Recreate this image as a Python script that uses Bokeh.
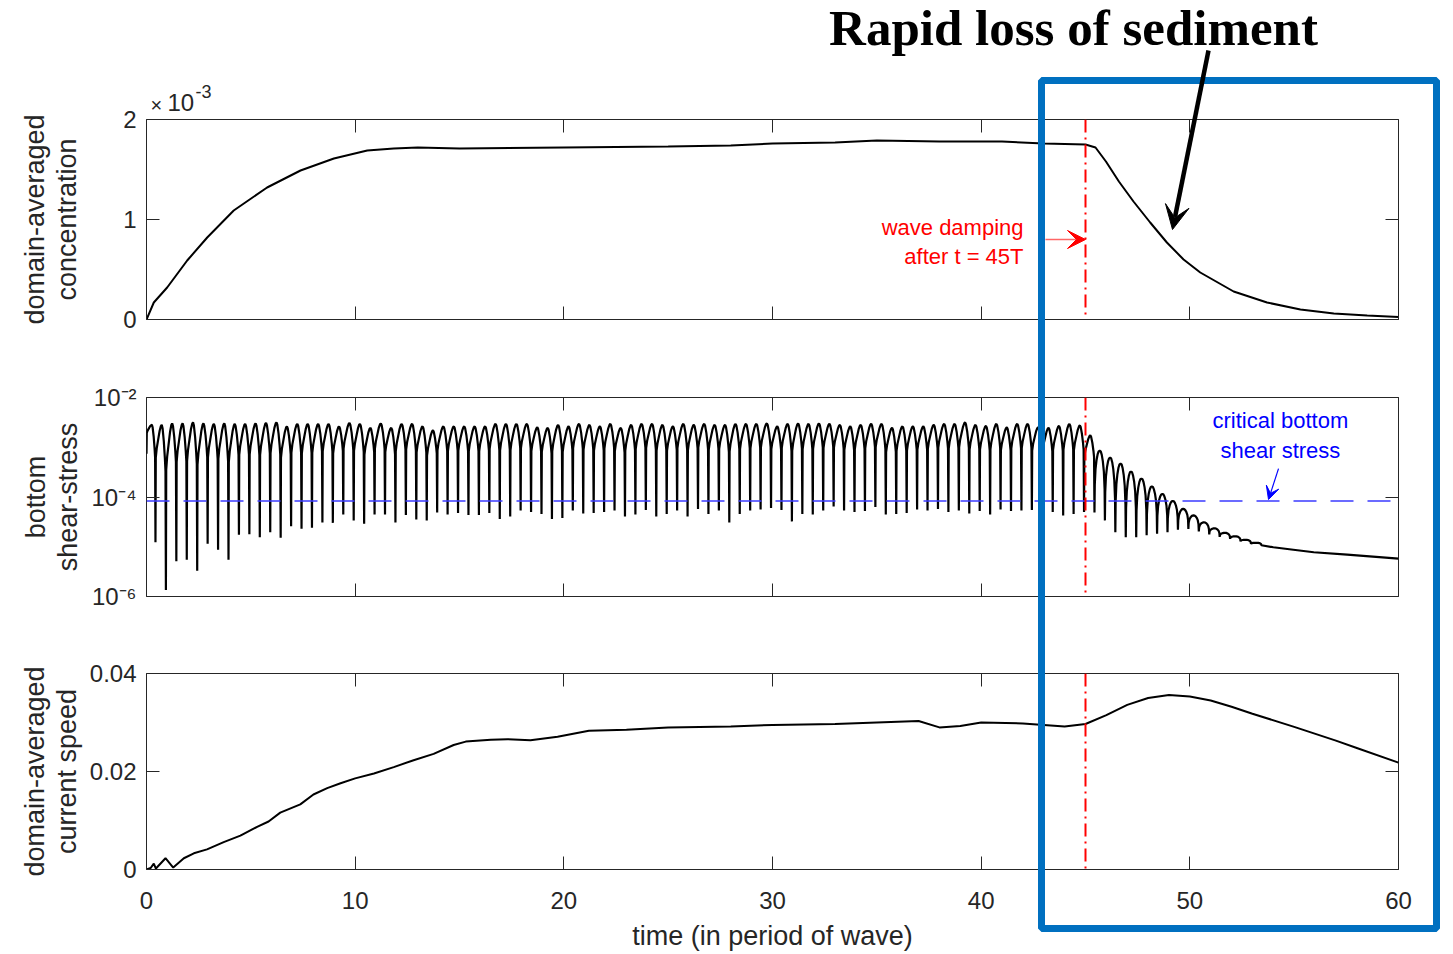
import numpy as np
from bokeh.plotting import figure
from bokeh.models import (Range1d, LinearAxis, LogAxis, FixedTicker, Span, Arrow,
                          VeeHead, CustomJSTickFormatter)
from bokeh.layouts import column
from bokeh.embed import file_html
from bokeh.resources import INLINE
from bokeh.core.properties import value

FONT = "Liberation Sans"
AXC = "#262626"

# ---------------- data ----------------
x_ticks = [0, 10, 20, 30, 40, 50, 60]
conc_ticks = [0, 1, 2]
tau_ticks = [1e-6, 1e-4, 1e-2]
speed_ticks = [0, 0.02, 0.04]

# panel 1: domain-averaged concentration (x 1e-3)
conc_t = [0, 0.35, 0.99, 1.95, 2.91, 4.18, 5.78, 7.38, 8.98, 10.58, 11.85, 13,
          15, 20, 25, 28, 30, 33, 35, 38, 41, 43, 45, 45.48, 45.98, 46.6, 47.3,
          48.1, 48.9, 49.7, 50.5, 52.1, 53.7, 55.3, 56.9, 58.5, 60]
conc_v = [0, 0.17, 0.32, 0.59, 0.82, 1.09, 1.32, 1.49, 1.61, 1.69, 1.71, 1.72,
          1.71, 1.72, 1.73, 1.74, 1.76, 1.77, 1.79, 1.78, 1.78, 1.76, 1.75, 1.72,
          1.58, 1.38, 1.18, 0.97, 0.77, 0.60, 0.47, 0.28, 0.17, 0.10, 0.06, 0.04, 0.025]

# panel 2: bottom shear stress, log10 values of every half-wave trough and peak
tau_start_t = 0.0
tau_start_log = -3.13
spike_t0 = 0.43
half_period = 0.5
tau_trough_log = [
    -4.91, -5.87, -5.29, -5.26, -5.48, -4.94, -5.06, -5.26, -4.76, -4.75,
    -4.81, -4.71, -4.82, -4.59, -4.64, -4.62, -4.51, -4.52, -4.35, -4.47,
    -4.54, -4.35, -4.35, -4.51, -4.36, -4.45, -4.47, -4.31, -4.35, -4.32,
    -4.36, -4.36, -4.32, -4.44, -4.39, -4.27, -4.30, -4.34, -4.44, -4.42,
    -4.27, -4.33, -4.32, -4.30, -4.27, -4.39, -4.35, -4.26, -4.39, -4.34,
    -4.27, -4.39, -4.24, -4.34, -4.27, -4.51, -4.34, -4.27, -4.25, -4.22,
    -4.26, -4.49, -4.34, -4.35, -4.27, -4.19, -4.27, -4.30, -4.28, -4.20,
    -4.35, -4.34, -4.32, -4.25, -4.27, -4.24, -4.30, -4.27, -4.33, -4.28,
    -4.35, -4.25, -4.28, -4.27, -4.26, -4.27, -4.30, -4.37, -4.34, -4.30,
    -4.31, -4.47, -4.71, -4.81, -4.81, -4.77, -4.74, -4.71, -4.66, -4.64,
    -4.69, -4.75, -4.80, -4.84, -4.89, -4.94, -4.97]
tau_peak_log = [
    -2.55, -2.55, -2.52, -2.52, -2.50, -2.52, -2.53, -2.52, -2.53, -2.53,
    -2.52, -2.51, -2.50, -2.58, -2.53, -2.53, -2.53, -2.53, -2.58, -2.51,
    -2.53, -2.61, -2.52, -2.61, -2.53, -2.53, -2.58, -2.66, -2.58, -2.58,
    -2.58, -2.58, -2.58, -2.53, -2.53, -2.53, -2.53, -2.60, -2.61, -2.55,
    -2.58, -2.53, -2.55, -2.58, -2.53, -2.61, -2.55, -2.53, -2.53, -2.55,
    -2.58, -2.53, -2.55, -2.53, -2.55, -2.55, -2.53, -2.53, -2.53, -2.52,
    -2.58, -2.53, -2.52, -2.53, -2.52, -2.53, -2.55, -2.58, -2.55, -2.53,
    -2.53, -2.61, -2.58, -2.58, -2.58, -2.55, -2.53, -2.53, -2.50, -2.55,
    -2.57, -2.53, -2.60, -2.53, -2.53, -2.60, -2.61, -2.57, -2.53, -2.56,
    -2.76, -3.07, -3.21, -3.33, -3.49, -3.63, -3.79, -3.94, -4.08, -4.24,
    -4.37, -4.51, -4.63, -4.72, -4.79, -4.86, -4.92]
tau_tail_t = [54.0, 54.96, 55.94, 57.54, 60.0]
tau_tail_log = [-5.01, -5.06, -5.11, -5.16, -5.24]
# shape of one half-wave (fraction of the half-wave, fraction of trough->peak rise)
wave_prof_f = [0, 0.03, 0.12, 0.25, 0.40, 0.52, 0.60, 0.68, 0.80, 0.90, 0.96, 1]
wave_prof_s = [0, 0.72, 0.80, 0.87, 0.95, 0.99, 1.0, 0.98, 0.90, 0.80, 0.72, 0]
arch_prof_f = [0, 0.03, 0.10, 0.20, 0.30, 0.40, 0.50, 0.60, 0.70, 0.80, 0.90, 0.97, 1]
arch_prof_s = [0, 0.45, 0.70, 0.85, 0.94, 0.99, 1.0, 0.99, 0.94, 0.85, 0.70, 0.45, 0]
first_damped_half_wave = 91
critical_log = -4.08

# panel 3: domain-averaged current speed
speed_t = [0, 0.2, 0.35, 0.45, 0.91, 1.28, 1.79, 2.27, 2.9, 3.7, 4.5, 5.3, 5.85,
           6.41, 7.37, 8.0, 8.66, 9.3, 10.0, 10.9, 11.85, 12.8, 13.76, 14.72, 15.3,
           16.5, 17.3, 18.4, 19.7, 21.2, 23, 25, 28, 30, 33, 35, 37, 38, 39, 40,
           42, 44, 45, 46, 47, 48, 49, 50, 51, 52, 53, 55, 57, 58, 60]
speed_v = [0.0, 0.0003, 0.0012, 0.0002, 0.0023, 0.0004, 0.0023, 0.0033, 0.0041,
           0.0056, 0.0069, 0.0087, 0.0098, 0.0116, 0.0133, 0.0153, 0.0166, 0.0176,
           0.0186, 0.0196, 0.0209, 0.0223, 0.0236, 0.0254, 0.0261, 0.0265, 0.0266,
           0.0264, 0.0271, 0.0283, 0.0285, 0.0290, 0.0292, 0.0295, 0.0297, 0.0300,
           0.0303, 0.0290, 0.0293, 0.0300, 0.0298, 0.0292, 0.0297, 0.0315, 0.0336,
           0.0350, 0.0356, 0.0353, 0.0345, 0.0332, 0.0318, 0.0291, 0.0263, 0.0248,
           0.0218]

damping_t = 45

# ---------------- build the shear-stress trace from the read extremes ----------------
tau_x = [tau_start_t]
tau_l = [tau_start_log]
left_t, left_v = tau_start_t, tau_start_log
for k, (tr, pk) in enumerate(zip(tau_trough_log, tau_peak_log)):
    right_t = spike_t0 + half_period * k
    if k < first_damped_half_wave:
        pf, ps = wave_prof_f, wave_prof_s
    else:
        pf, ps = arch_prof_f, arch_prof_s
    f_peak = pf[ps.index(1.0)]
    for f, s in zip(pf[1:], ps[1:]):
        base = left_v if f <= f_peak else tr
        tau_x.append(left_t + f * (right_t - left_t))
        tau_l.append(base + (pk - base) * s)
    left_t, left_v = right_t, tr
tau_x += tau_tail_t
tau_l += tau_tail_log
tau_y = [10.0 ** v for v in tau_l]

# ---------------- figures ----------------
xr = Range1d(0, 60)
BLANK = CustomJSTickFormatter(code="return '';")
LOGFMT = CustomJSTickFormatter(code=r"""
const e = Math.round(Math.log10(tick));
const m = {'-':'\u207b','0':'\u2070','1':'\u00b9','2':'\u00b2','3':'\u00b3','4':'\u2074',
           '5':'\u2075','6':'\u2076','7':'\u2077','8':'\u2078','9':'\u2079'};
return '10' + String(e).split('').map(c => m[c]).join('');
""")
SPEEDFMT = CustomJSTickFormatter(code="return tick === 0 ? '0' : tick.toFixed(2);")

FIG_W = 1445


def base_fig(h, top, bottom, yr, ytype="linear"):
    p = figure(width=FIG_W, height=h, x_range=xr, y_range=yr, y_axis_type=ytype,
               output_backend="svg", toolbar_location=None,
               min_border_left=146, min_border_right=47,
               min_border_top=top, min_border_bottom=bottom)
    p.grid.visible = False
    p.outline_line_color = AXC
    p.outline_line_width = 1
    p.background_fill_color = "white"
    p.border_fill_color = "white"
    return p


def style_axis(ax, ticks, labels=True, fmt=None):
    ax.ticker = FixedTicker(ticks=ticks, minor_ticks=[])
    ax.axis_line_color = None
    ax.major_tick_in = 13
    ax.major_tick_out = 0
    ax.minor_tick_in = 0
    ax.minor_tick_out = 0
    ax.major_tick_line_color = AXC
    ax.major_tick_line_width = 1
    ax.major_label_text_font = FONT
    ax.major_label_text_font_size = "24px"
    ax.major_label_text_color = AXC
    ax.major_label_standoff = 10
    ax.axis_label_text_font = FONT
    ax.axis_label_text_font_size = "27px"
    ax.axis_label_text_font_style = "normal"
    ax.axis_label_text_color = AXC
    ax.axis_label_text_line_height = 1.07
    if not labels:
        ax.formatter = BLANK
    elif fmt is not None:
        ax.formatter = fmt


def red_line(p):
    p.add_layout(Span(location=damping_t, dimension="height", line_color="red",
                      line_width=2, line_dash="13 5 2 5"))


# panel 1
H1, H2, H3 = 358, 276, 319
f1 = base_fig(H1, 119, 39, Range1d(0, 2))
style_axis(f1.yaxis[0], conc_ticks)
f1.yaxis[0].axis_label = "domain-averaged\nconcentration"
f1.yaxis[0].axis_label_standoff = 38
style_axis(f1.xaxis[0], x_ticks, labels=False)
a = LinearAxis(); style_axis(a, x_ticks, labels=False); f1.add_layout(a, "above")
a = LinearAxis(); style_axis(a, conc_ticks, labels=False); f1.add_layout(a, "right")
f1.line(conc_t, conc_v, line_color="black", line_width=2)
red_line(f1)
f1.text(x=[42.03, 42.03], y=[0.923, 0.63], text=["wave damping", "after t = 45T"],
        text_align="right", text_baseline="middle", text_color="red",
        text_font=value(FONT), text_font_size="22px")
f1.add_layout(Arrow(x_start=43.08, y_start=0.80, x_end=45.0, y_end=0.80,
                    line_color="red", line_alpha=0.6, line_width=1.5,
                    end=VeeHead(size=18, fill_color="red", line_color="red", line_width=1)))

# panel 2
f2 = base_fig(H2, 39, 38, Range1d(1e-6, 1e-2), ytype="log")
style_axis(f2.yaxis[0], tau_ticks, fmt=LOGFMT)
f2.yaxis[0].axis_label = "bottom\nshear-stress"
f2.yaxis[0].axis_label_standoff = 5
style_axis(f2.xaxis[0], x_ticks, labels=False)
a = LinearAxis(); style_axis(a, x_ticks, labels=False); f2.add_layout(a, "above")
a = LogAxis(); style_axis(a, tau_ticks, labels=False); f2.add_layout(a, "right")
f2.line(tau_x, tau_y, line_color="black", line_width=2.2)
f2.add_layout(Span(location=10 ** critical_log, dimension="width", line_color="#3b3bff",
                   line_width=1.3, line_dash="23 14"))
red_line(f2)
f2.text(x=[54.34, 54.34], y=[10 ** -2.46, 10 ** -3.07], text=["critical bottom", "shear stress"],
        text_align="center", text_baseline="middle", text_color="blue",
        text_font=value(FONT), text_font_size="22px")
f2.add_layout(Arrow(x_start=54.25, y_start=10 ** -3.43, x_end=53.77, y_end=10 ** -4.05,
                    line_color="blue", line_width=1.2,
                    end=VeeHead(size=13, fill_color="blue", line_color="blue", line_width=1)))

# panel 3
f3 = base_fig(H3, 39, 80, Range1d(0, 0.04))
style_axis(f3.yaxis[0], speed_ticks, fmt=SPEEDFMT)
f3.yaxis[0].axis_label = "domain-averaged\ncurrent speed"
f3.yaxis[0].axis_label_standoff = 5
style_axis(f3.xaxis[0], x_ticks)
f3.xaxis[0].major_label_standoff = 22
f3.xaxis[0].axis_label = "time (in period of wave)"
f3.xaxis[0].axis_label_standoff = 9
a = LinearAxis(); style_axis(a, x_ticks, labels=False); f3.add_layout(a, "above")
a = LinearAxis(); style_axis(a, speed_ticks, labels=False); f3.add_layout(a, "right")
f3.line(speed_t, speed_v, line_color="black", line_width=2)
red_line(f3)

# overlay in page-pixel coordinates for the callout elements
total_h = H1 + H2 + H3
ov = figure(width=FIG_W, height=total_h, x_range=Range1d(0, FIG_W), y_range=Range1d(total_h, 0),
            output_backend="svg", toolbar_location=None, min_border=0,
            x_axis_location=None, y_axis_location=None)
ov.frame_align = False
ov.grid.visible = False
ov.background_fill_color = None
ov.border_fill_color = None
ov.outline_line_color = None
ov.quad(left=[1041], right=[1436], top=[80], bottom=[928], fill_color=None,
        line_color="#0070C0", line_width=7)
ov.text(x=[1073], y=[27], text=["Rapid loss of sediment"], text_align="center",
        text_baseline="middle", text_color="black", text_font=value("Liberation Serif"),
        text_font_style="bold", text_font_size="51px")
ov.add_layout(Arrow(x_start=1208, y_start=50, x_end=1172, y_end=229, line_width=4.5,
                    line_color="black",
                    end=VeeHead(size=24, fill_color="black", line_color="black", line_width=1)))
ov.text(x=[150], y=[104], text=["\u00d7"], text_baseline="middle", text_color=AXC,
        text_font=value(FONT), text_font_size="20px")
ov.text(x=[167], y=[102], text=["10"], text_baseline="middle", text_color=AXC,
        text_font=value(FONT), text_font_size="24px")
ov.text(x=[195], y=[91], text=["-3"], text_baseline="middle", text_color=AXC,
        text_font=value(FONT), text_font_size="18px")
ov.styles = {"position": "absolute", "left": "0px", "top": "0px"}

lay = column(f1, f2, f3, ov, styles={"position": "relative"})

with open("out.html", "w", encoding="utf-8") as fh:
    fh.write(file_html(lay, INLINE))
